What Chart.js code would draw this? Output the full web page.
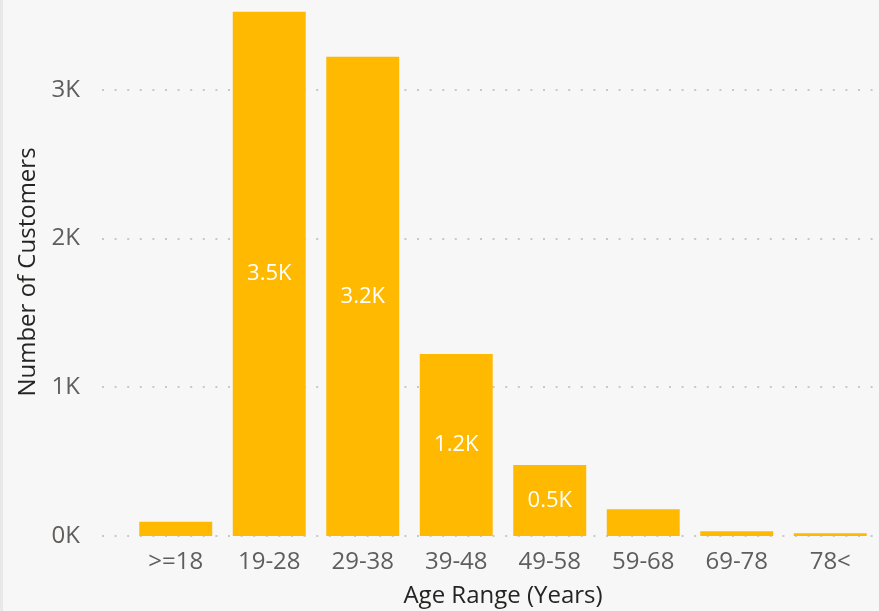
<!DOCTYPE html>
<html>
<head>
<meta charset="utf-8">
<script src="https://cdn.jsdelivr.net/npm/chart.js@4.4.1/dist/chart.umd.min.js"></script>
<style>
  html, body { margin: 0; padding: 0; background: #f7f7f7; }
  #wrap { width: 879px; height: 611px; position: relative; }
  #edge { position: absolute; left: 0; top: 0; width: 3px; height: 611px; background: #e8e8e8; }
</style>
</head>
<body>
<div id="wrap"><canvas id="age-chart" width="879" height="611"></canvas><div id="edge"></div></div>
<script>
// Age buckets and customer counts
const ageRanges = [">=18", "19-28", "29-38", "39-48", "49-58", "59-68", "69-78", "78<"];
const customers = [95, 3524, 3222, 1224, 478, 180, 32, 18];
const yTicks = [0, 1000, 2000, 3000];
const yTickLabels = ["0K", "1K", "2K", "3K"];
// only these bars carry a value label
const labelled = [false, true, true, true, true, false, false, false];

const fontFamily = "'Segoe UI', 'Open Sans', sans-serif";

// dotted horizontal gridlines that start left of the first bar
const dottedGrid = {
    id: 'dottedGrid',
    beforeDatasetsDraw(chart) {
        const ctx = chart.ctx;
        const y = chart.scales.y;
        ctx.save();
        ctx.strokeStyle = '#c8c8c8';
        ctx.lineWidth = 2;
        ctx.setLineDash([2, 10.6]);
        yTicks.forEach(t => {
            const py = Math.round(y.getPixelForValue(t));
            ctx.beginPath();
            ctx.moveTo(chart.chartArea.left - 27, py);
            ctx.lineTo(chart.chartArea.right, py);
            ctx.stroke();
        });
        ctx.restore();
    }
};

// white value labels in the middle of the bars
const barLabels = {
    id: 'barLabels',
    afterDatasetsDraw(chart) {
        const ctx = chart.ctx;
        const meta = chart.getDatasetMeta(0);
        ctx.save();
        ctx.fillStyle = '#ffffff';
        ctx.font = '22px ' + fontFamily;
        ctx.textAlign = 'center';
        ctx.textBaseline = 'middle';
        meta.data.forEach((bar, i) => {
            if (!labelled[i]) return;
            const txt = (customers[i] / 1000).toFixed(1) + 'K';
            ctx.fillText(txt, bar.x, (bar.y + bar.base) / 2);
        });
        ctx.restore();
    }
};

let config = {
    type: 'bar',
    data: {
        labels: ageRanges,
        datasets: [{
            label: 'Number of Customers',
            data: customers,
            backgroundColor: '#FFB900',
            borderWidth: 0,
            categoryPercentage: 1,
            barPercentage: 0.78
        }]
    },
    options: {
        responsive: false,
        animation: false,
        layout: { padding: { top: 8, right: 2, left: 0, bottom: 0 } },
        plugins: {
            legend: { display: false },
            tooltip: { enabled: false }
        },
        scales: {
            x: {
                grid: { display: false, drawTicks: false },
                border: { display: false },
                afterFit: s => { s.height = 75; },
                ticks: { color: '#605E5C', font: { family: fontFamily, size: 24 }, padding: 12, maxRotation: 0 },
                title: { display: true, text: 'Age Range (Years)', color: '#252423', font: { family: fontFamily, size: 24 }, padding: { top: 8, bottom: 0 } }
            },
            y: {
                min: 0,
                max: 3550,
                grid: { display: false, drawTicks: false },
                border: { display: false },
                afterBuildTicks: s => { s.ticks = yTicks.map(v => ({ value: v })); },
                afterFit: s => { s.width = 129; s.paddingTop = 0; s.paddingBottom = 0; },
                ticks: {
                    color: '#605E5C',
                    font: { family: fontFamily, size: 24 },
                    padding: 49,
                    callback: (v, i) => yTickLabels[i]
                },
                title: { display: true, text: 'Number of Customers', color: '#252423', font: { family: fontFamily, size: 24 }, padding: { top: 14, bottom: 0 } }
            }
        }
    },
    plugins: [dottedGrid, barLabels]
};

let ageChart = new Chart(document.getElementById('age-chart'), config);
</script>
</body>
</html>
